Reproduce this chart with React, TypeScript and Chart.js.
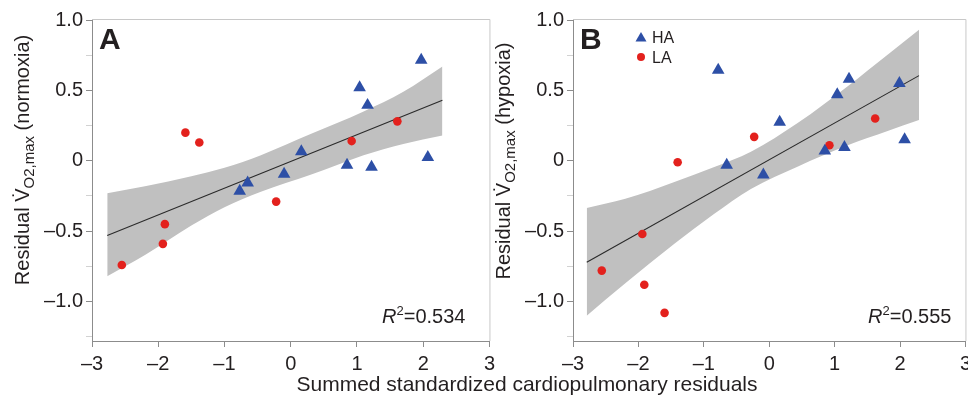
import React, { useEffect, useRef } from 'react';
import { Chart, registerables } from 'chart.js';

Chart.register(...registerables);

// ---------- shared axes ----------
const xTicks = [-3, -2, -1, 0, 1, 2, 3];
const yTicks = [-1.25, -1, -0.75, -0.5, -0.25, 0, 0.25, 0.5, 0.75, 1];
const yLabelled = [-1, -0.5, 0, 0.5, 1];
const xTitle = 'Summed standardized cardiopulmonary residuals';

// ---------- panel A (normoxia) ----------
const haAx = [1.97, 1.04, 1.16, 0.16, -0.1, 0.85, 1.22, 2.07, -0.65, -0.77];
const haAy = [0.715, 0.52, 0.395, 0.065, -0.095, -0.03, -0.045, 0.025, -0.157, -0.215];
const laAx = [-1.59, -1.38, 0.92, 1.61, -0.22, -1.9, -1.93, -2.55];
const laAy = [0.2, 0.13, 0.14, 0.28, -0.29, -0.45, -0.59, -0.74];
const fitAx = [-2.77, 2.29];
const fitAy = [-0.53, 0.43];
const bandAx = [-2.77, -2.2, -1.5, -1.0, -0.45, 0.3, 1.1, 1.7, 2.29];
const bandAup = [-0.23, -0.18, -0.11, -0.05, 0.04, 0.19, 0.35, 0.49, 0.67];
const bandAlo = [-0.82, -0.67, -0.46, -0.33, -0.22, -0.1, 0.04, 0.12, 0.18];

// ---------- panel B (hypoxia) ----------
const haBx = [-0.78, 1.22, 1.99, 1.04, 0.16, 2.07, 0.85, 1.15, -0.65, -0.09];
const haBy = [0.645, 0.58, 0.55, 0.47, 0.275, 0.15, 0.07, 0.095, -0.03, -0.1];
const laBx = [-1.4, -0.23, 0.92, 1.62, -1.94, -2.56, -1.91, -1.6];
const laBy = [-0.01, 0.17, 0.11, 0.3, -0.52, -0.78, -0.88, -1.08];
const fitBx = [-2.79, 2.29];
const fitBy = [-0.72, 0.605];
const bandBx = [-2.79, -2.2, -1.45, -0.85, -0.28, 0.44, 1.2, 1.8, 2.29];
const bandBup = [-0.335, -0.27, -0.15, -0.045, 0.065, 0.27, 0.53, 0.75, 0.93];
const bandBlo = [-1.1, -0.87, -0.59, -0.38, -0.2, -0.04, 0.11, 0.21, 0.29];

const FAM = "'Liberation Sans', Arial, Helvetica, sans-serif";
const TEXT = '#231f20';
const AXIS = '#8c8c8c';
const BLUE = '#2d4fa6';
const RED = '#e3211d';
const BAND = '#c0c0c0';

const pts = (xs: number[], ys: number[]) => xs.map((x, i) => ({ x, y: ys[i] }));
const fmtX = (v: number) => (v < 0 ? '\u2013' + Math.abs(v) : String(v));
const fmtY = (v: number) => {
  if (v === 0) return '0';
  const s = Math.abs(v).toFixed(1);
  return v < 0 ? '\u2013' + s : s;
};

function drawYTitle(ctx: CanvasRenderingContext2D, cx: number, cy: number, suffix: string) {
  const big = `20px ${FAM}`;
  const small = `15px ${FAM}`;
  const parts = [
    { t: 'Residual ', f: big, dy: 0 },
    { t: 'V\u0307', f: big, dy: 0 },
    { t: 'O2,max', f: small, dy: 5 },
    { t: ` (${suffix})`, f: big, dy: 0 },
  ];
  ctx.save();
  ctx.translate(cx, cy);
  ctx.rotate(-Math.PI / 2);
  ctx.fillStyle = TEXT;
  ctx.textBaseline = 'alphabetic';
  ctx.textAlign = 'left';
  const widths = parts.map((p) => {
    ctx.font = p.f;
    return ctx.measureText(p.t).width;
  });
  const total = widths.reduce((a, b) => a + b, 0);
  let x = -total / 2;
  parts.forEach((p, i) => {
    ctx.font = p.f;
    ctx.fillText(p.t, x, 7 + p.dy);
    x += widths[i];
  });
  ctx.restore();
}

function drawR2(ctx: CanvasRenderingContext2D, right: number, base: number, val: string) {
  const parts = [
    { t: 'R', f: `italic 20px ${FAM}`, dy: 0 },
    { t: '2', f: `13px ${FAM}`, dy: -8 },
    { t: '=' + val, f: `20px ${FAM}`, dy: 0 },
  ];
  ctx.save();
  ctx.fillStyle = TEXT;
  ctx.textBaseline = 'alphabetic';
  ctx.textAlign = 'left';
  const widths = parts.map((p) => {
    ctx.font = p.f;
    return ctx.measureText(p.t).width;
  });
  let x = right - widths.reduce((a, b) => a + b, 0);
  parts.forEach((p, i) => {
    ctx.font = p.f;
    ctx.fillText(p.t, x, base + p.dy);
    x += widths[i];
  });
  ctx.restore();
}

type PanelSpec = {
  haX: number[]; haY: number[]; laX: number[]; laY: number[];
  fitX: number[]; fitY: number[];
  bandX: number[]; bandUp: number[]; bandLo: number[];
  letter: string; r2: string; suffix: string;
  yAxisWidth: number; padRight: number; titleX: number; titleY: number; legend: boolean;
};

function makeConfig(p: PanelSpec): any {
  const overlay = {
    id: 'overlay' + p.letter,
    afterDraw(chart: any) {
      const { ctx, chartArea: a } = chart;
      ctx.save();
      // frame top + right
      ctx.strokeStyle = '#c8c8c8';
      ctx.lineWidth = 1;
      ctx.beginPath();
      ctx.moveTo(a.left, a.top - 0.5);
      ctx.lineTo(a.right + 0.5, a.top - 0.5);
      ctx.lineTo(a.right + 0.5, a.bottom);
      ctx.stroke();
      // panel letter
      ctx.fillStyle = TEXT;
      ctx.font = `bold 30px ${FAM}`;
      ctx.textBaseline = 'alphabetic';
      ctx.textAlign = 'left';
      ctx.fillText(p.letter, a.left + 7, 49);
      // legend
      if (p.legend) {
        const lx = a.left + 68;
        ctx.fillStyle = BLUE;
        ctx.beginPath();
        ctx.moveTo(lx, 32);
        ctx.lineTo(lx + 5.5, 41.5);
        ctx.lineTo(lx - 5.5, 41.5);
        ctx.closePath();
        ctx.fill();
        ctx.fillStyle = RED;
        ctx.beginPath();
        ctx.arc(lx, 57, 4, 0, Math.PI * 2);
        ctx.fill();
        ctx.fillStyle = TEXT;
        ctx.font = `16px ${FAM}`;
        ctx.fillText('HA', lx + 11, 43);
        ctx.fillText('LA', lx + 11, 63);
      }
      drawR2(ctx, a.right - (p.letter === 'A' ? 24 : 14), 323, p.r2);
      drawYTitle(ctx, p.titleX, p.titleY, p.suffix);
      ctx.restore();
    },
  };

  return {
    type: 'scatter',
    data: {
      datasets: [
        {
          label: 'CI upper',
          data: pts(p.bandX, p.bandUp),
          showLine: true,
          borderWidth: 0,
          borderColor: 'rgba(0,0,0,0)',
          backgroundColor: BAND,
          pointRadius: 0,
          cubicInterpolationMode: 'monotone',
          fill: 1,
          order: 4,
        },
        {
          label: 'CI lower',
          data: pts(p.bandX, p.bandLo),
          showLine: true,
          borderWidth: 0,
          borderColor: 'rgba(0,0,0,0)',
          backgroundColor: BAND,
          pointRadius: 0,
          cubicInterpolationMode: 'monotone',
          fill: false,
          order: 3,
        },
        {
          label: 'Fit',
          data: pts(p.fitX, p.fitY),
          showLine: true,
          borderWidth: 1.1,
          borderColor: '#2a2a2a',
          pointRadius: 0,
          fill: false,
          order: 2,
        },
        {
          label: 'LA',
          data: pts(p.laX, p.laY),
          pointStyle: 'circle',
          pointRadius: 4.3,
          backgroundColor: RED,
          borderColor: RED,
          borderWidth: 0,
          order: 1,
        },
        {
          label: 'HA',
          data: pts(p.haX, p.haY),
          pointStyle: 'triangle',
          pointRadius: 7.3,
          backgroundColor: BLUE,
          borderColor: BLUE,
          borderWidth: 0,
          order: 0,
        },
      ],
    },
    options: {
      responsive: false,
      animation: false,
      events: [],
      layout: { padding: { left: 0, top: 20, right: p.padRight, bottom: 0 } },
      plugins: { legend: { display: false }, tooltip: { enabled: false } },
      scales: {
        x: {
          type: 'linear',
          min: -3,
          max: 3,
          afterBuildTicks: (s: any) => {
            s.ticks = xTicks.map((v) => ({ value: v }));
          },
          afterFit: (s: any) => {
            s.height = 62;
          },
          ticks: {
            autoSkip: false,
            maxRotation: 0,
            padding: 5,
            color: TEXT,
            font: { family: FAM, size: 20 },
            callback: (v: number) => fmtX(v),
          },
          grid: { drawOnChartArea: false, drawTicks: true, tickLength: 6, tickColor: AXIS },
          border: { color: AXIS, width: 1 },
        },
        y: {
          type: 'linear',
          min: -1.28,
          max: 1.0,
          afterBuildTicks: (s: any) => {
            s.ticks = yTicks.map((v) => ({ value: v }));
          },
          afterFit: (s: any) => {
            s.width = p.yAxisWidth;
          },
          ticks: {
            autoSkip: false,
            padding: 3,
            color: TEXT,
            font: { family: FAM, size: 20 },
            callback: (v: number) => (yLabelled.some((q) => Math.abs(q - v) < 1e-9) ? fmtY(v) : ''),
          },
          grid: {
            drawOnChartArea: false,
            drawTicks: true,
            tickLength: 6,
            tickColor: (c: any) =>
              c.tick && yLabelled.some((q) => Math.abs(q - c.tick.value) < 1e-9) ? AXIS : '#d2d2d2',
          },
          border: { color: AXIS, width: 1 },
        },
      },
    },
    plugins: [overlay],
  };
}

function Panel({ spec, left, width }: { spec: PanelSpec; left: number; width: number }) {
  const ref = useRef<HTMLCanvasElement>(null);
  useEffect(() => {
    const chart = new Chart(ref.current as HTMLCanvasElement, makeConfig(spec));
    return () => chart.destroy();
  }, []);
  return (
    <canvas
      ref={ref}
      width={width}
      height={403}
      style={{ position: 'absolute', left, top: 0, width, height: 403 }}
    />
  );
}

const specA: PanelSpec = {
  haX: haAx, haY: haAy, laX: laAx, laY: laAy,
  fitX: fitAx, fitY: fitAy, bandX: bandAx, bandUp: bandAup, bandLo: bandAlo,
  letter: 'A', r2: '0.534', suffix: 'normoxia',
  yAxisWidth: 92, padRight: 10, titleX: 22, titleY: 160, legend: false,
};

const specB: PanelSpec = {
  haX: haBx, haY: haBy, laX: laBx, laY: laBy,
  fitX: fitBx, fitY: fitBy, bandX: bandBx, bandUp: bandBup, bandLo: bandBlo,
  letter: 'B', r2: '0.555', suffix: 'hypoxia',
  yAxisWidth: 93, padRight: 9, titleX: 23, titleY: 161, legend: true,
};

export default function App() {
  return (
    <div
      style={{
        position: 'fixed',
        left: 0,
        top: 0,
        width: 968,
        height: 403,
        background: '#ffffff',
        overflow: 'hidden',
      }}
    >
      <Panel spec={specA} left={0} width={500} />
      <Panel spec={specB} left={480} width={496} />
      <div
        style={{
          position: 'absolute',
          left: 527,
          top: 372,
          transform: 'translateX(-50%)',
          whiteSpace: 'nowrap',
          fontFamily: FAM,
          fontSize: 21,
          lineHeight: '23px',
          color: TEXT,
        }}
      >
        {xTitle}
      </div>
    </div>
  );
}
